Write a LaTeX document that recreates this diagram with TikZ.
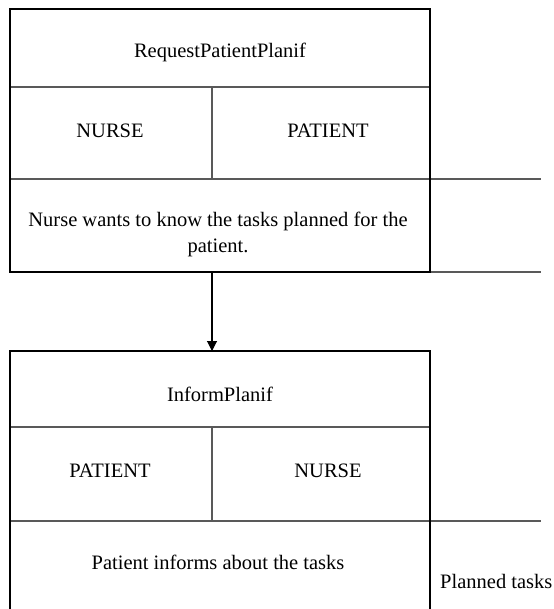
\documentclass[tikz,border=0pt]{standalone}
\usepackage{fontspec}
\setmainfont{Liberation Serif}
\newfontfamily\lserif{Liberation Serif}
\usetikzlibrary{arrows.meta}
\begin{document}
\begin{tikzpicture}[x=1pt,y=-1pt,
  outer/.style={draw=black,line width=1.3pt},
  inner/.style={draw=black!65,line width=1.3pt},
  cell/.style={inner sep=0pt,outer sep=0pt},
  lbl/.style={inner sep=0pt,align=center,font=\lserif\fontsize{20.5}{26}\selectfont},
  conn/.style={draw=black,line width=1.1pt,-{Triangle[length=10pt,width=10pt]}}]
\useasboundingbox (0,0) rectangle (553,609);
% ---- box 1 ----
\node[cell,minimum width=420pt,minimum height=78pt,anchor=north west] (t1) at (10,9) {};
\node[cell,minimum width=202pt,minimum height=92pt,anchor=north west] (a1) at (10,87) {};
\node[cell,minimum width=218pt,minimum height=92pt,anchor=north west] (b1) at (212,87) {};
\node[cell,minimum width=420pt,minimum height=93pt,anchor=north west] (d1) at (10,179) {};
\node[lbl] at (220,52) {RequestPatientPlanif};
\node[lbl] at (110,131) {NURSE};
\node[lbl] at (328,131) {PATIENT};
\node[lbl] at (218,234) {Nurse wants to know the tasks planned for the\\patient.};
\draw[inner] (a1.north west) -- (b1.north east);
\draw[inner] (a1.north east) -- (a1.south east);
\draw[inner] (d1.north west) -- (d1.north east) -- (541,179);
\draw[inner] (d1.south east) -- (541,272);
\draw[outer] (t1.north west) rectangle (d1.south east);
% ---- box 2 ----
\node[cell,minimum width=420pt,minimum height=76pt,anchor=north west] (t2) at (10,351) {};
\node[cell,minimum width=202pt,minimum height=94pt,anchor=north west] (a2) at (10,427) {};
\node[cell,minimum width=218pt,minimum height=94pt,anchor=north west] (b2) at (212,427) {};
\node[cell,minimum width=420pt,minimum height=88pt,anchor=north west] (d2) at (10,521) {};
\node[lbl] at (220,394) {InformPlanif};
\node[lbl] at (110,471) {PATIENT};
\node[lbl] at (328,471) {NURSE};
\node[lbl] at (218,562) {Patient informs about the tasks};
\node[lbl,anchor=west] (pt) at (440,581) {Planned tasks};
\draw[inner] (a2.north west) -- (b2.north east);
\draw[inner] (a2.north east) -- (a2.south east);
\draw[inner] (d2.north west) -- (d2.north east) -- (541,521);
\draw[outer] (d2.south west) -- (t2.north west) -- (t2.north east) -- (d2.south east);
% ---- connector ----
\draw[conn] (d1.south -| a1.east) -- (t2.north -| a1.east);
\end{tikzpicture}
\end{document}
